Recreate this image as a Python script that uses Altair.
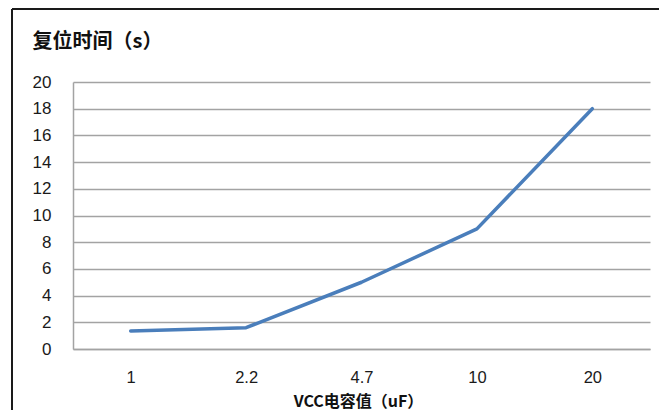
import altair as alt
import pandas as pd

categories = ["1", "2.2", "4.7", "10", "20"]
reset_time = [1.35, 1.6, 5.0, 9.0, 18.0]
y_ticks = [0, 2, 4, 6, 8, 10, 12, 14, 16, 18, 20]

df = pd.DataFrame({"cap": categories, "t": reset_time})

LABEL_FONT = "Liberation Sans"
CJK_FONT = "Noto Sans CJK SC"
GRID = "#a3a3a3"
FRAME = "#1a1a1a"

line = alt.Chart(df).mark_line(
    color="#4a7ebb", strokeWidth=3.5, strokeCap="round", strokeJoin="round"
).encode(
    x=alt.X(
        "cap:N",
        sort=None,
        scale=alt.Scale(type="point", padding=0.5),
        axis=alt.Axis(
            title="VCC电容值（uF）",
            titleFont=CJK_FONT,
            titleFontSize=16,
            titleFontWeight="bold",
            titleColor="#111111",
            titleX=285,
            titleY=52,
            titleAlign="center",
            titleBaseline="middle",
            labelAngle=0,
            labelFont=LABEL_FONT,
            labelFontSize=16.5,
            labelColor="#1a1a1a",
            labelBaseline="middle",
            labelPadding=28,
            ticks=False,
            tickSize=0,
            domain=True,
            domainColor=GRID,
            domainWidth=1.5,
            grid=False,
        ),
    ),
    y=alt.Y(
        "t:Q",
        scale=alt.Scale(domain=[0, 20], nice=False, zero=True),
        axis=alt.Axis(
            title="复位时间（s）",
            titleFont=CJK_FONT,
            titleFontSize=20,
            titleFontWeight="bold",
            titleColor="#111111",
            titleAngle=0,
            titleX=-41,
            titleY=-41,
            titleAlign="left",
            titleBaseline="middle",
            values=y_ticks,
            labelFont=LABEL_FONT,
            labelFontSize=17,
            labelColor="#1a1a1a",
            labelPadding=22,
            labelAlign="right",
            labelBaseline="middle",
            ticks=False,
            tickSize=0,
            domain=True,
            domainColor=GRID,
            domainWidth=1.5,
            grid=True,
            gridColor=GRID,
            gridWidth=1.5,
        ),
    ),
)

frame_data = alt.Data(values=[{"a": 1}])
frame_top = alt.Chart(frame_data).mark_rule(color=FRAME, strokeWidth=2).encode(
    x=alt.value(-61), x2=alt.value(720), y=alt.value(-73)
)
frame_left = alt.Chart(frame_data).mark_rule(color=FRAME, strokeWidth=2).encode(
    x=alt.value(-61), y=alt.value(-73), y2=alt.value(420)
)

chart = alt.layer(frame_top, frame_left, line).properties(
    width=577,
    height=267,
    autosize=alt.AutoSizeParams(type="none"),
    padding={"left": 65, "top": 74, "right": 9, "bottom": 61},
    background="white",
).configure_view(stroke=None)

chart.save("out.html", embed_options={"renderer": "svg", "actions": False})
